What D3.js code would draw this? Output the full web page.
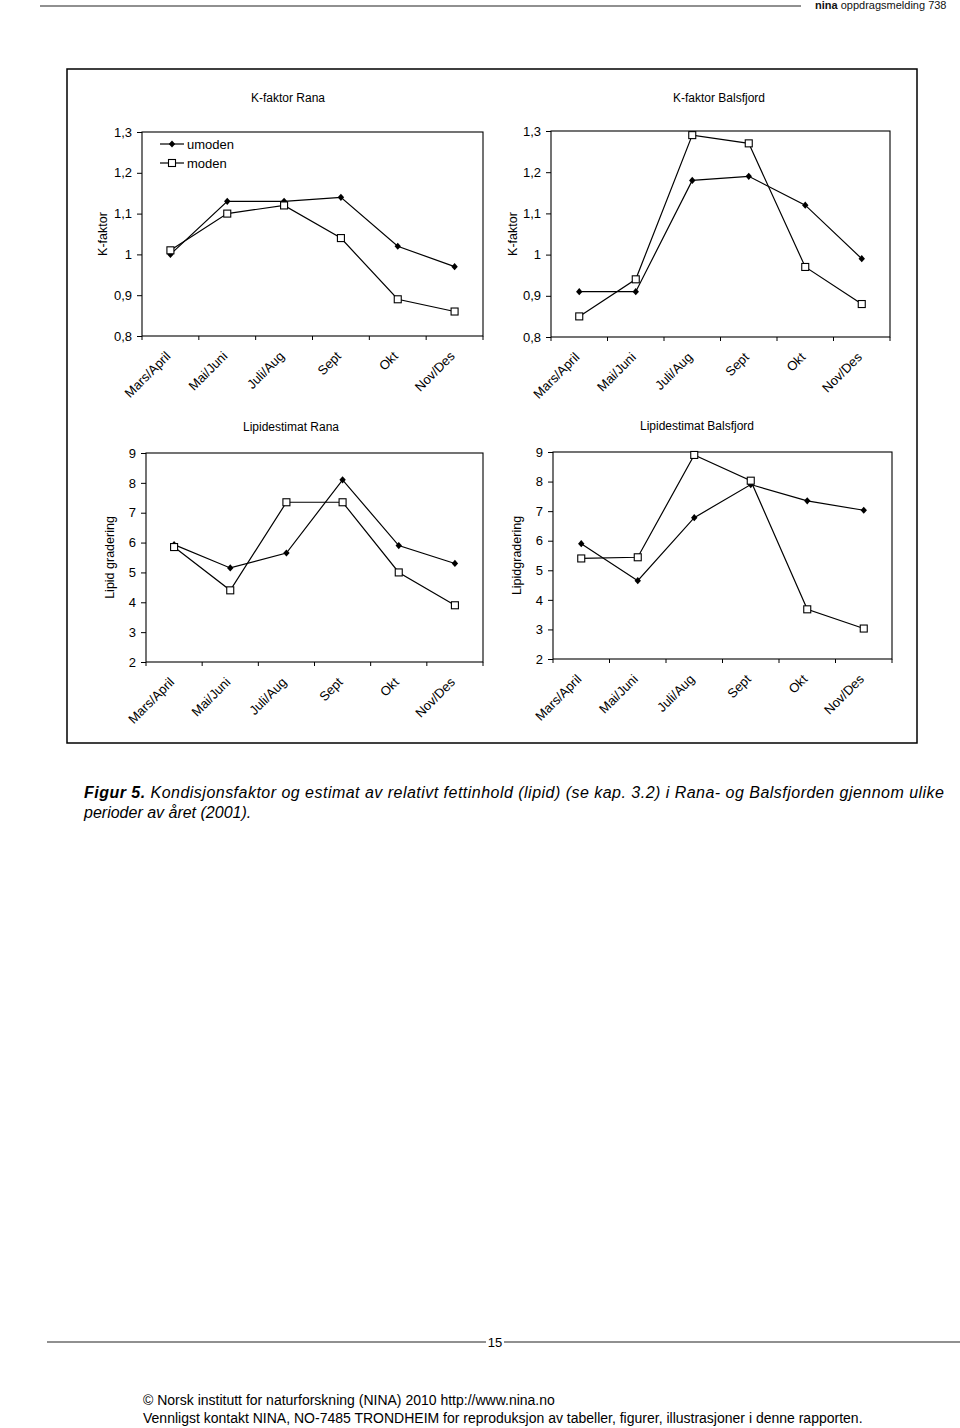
<!DOCTYPE html>
<html>
<head>
<meta charset="utf-8">
<script src="https://cdn.jsdelivr.net/npm/d3@7"></script>
<style>
  body { margin: 0; background: #fff; }
  svg { display: block; font-family: "Liberation Sans", Arial, sans-serif; }
</style>
</head>
<body>
<svg id="chart" width="960" height="1428"></svg>
<script>
// ---- data ----
const categories = ["Mars/April", "Mai/Juni", "Juli/Aug", "Sept", "Okt", "Nov/Des"];
const seriesNames = ["umoden", "moden"];

const kRanaUmoden = [1.00, 1.13, 1.13, 1.14, 1.02, 0.97];
const kRanaModen  = [1.01, 1.10, 1.12, 1.04, 0.89, 0.86];
const kBalsUmoden = [0.91, 0.91, 1.18, 1.19, 1.12, 0.99];
const kBalsModen  = [0.85, 0.94, 1.29, 1.27, 0.97, 0.88];

const lipRanaUmoden = [5.93, 5.15, 5.65, 8.1, 5.9, 5.3];
const lipRanaModen  = [5.85, 4.4, 7.35, 7.35, 5.0, 3.9];
const lipBalsUmoden = [5.9, 4.65, 6.78, 7.9, 7.35, 7.03];
const lipBalsModen  = [5.4, 5.44, 8.9, 8.03, 3.68, 3.03];

const kTicks = [0.8, 0.9, 1.0, 1.1, 1.2, 1.3];
const kTickLabels = ["0,8", "0,9", "1", "1,1", "1,2", "1,3"];
const lipTicks = [2, 3, 4, 5, 6, 7, 8, 9];
const lipTickLabels = ["2", "3", "4", "5", "6", "7", "8", "9"];

const titles = ["K-faktor Rana", "K-faktor Balsfjord", "Lipidestimat Rana", "Lipidestimat Balsfjord"];
const yTitles = ["K-faktor", "K-faktor", "Lipid gradering", "Lipidgradering"];

// ---- drawing ----
const svg = d3.select("#chart");
svg.append("rect").attr("width", 960).attr("height", 1428).attr("fill", "#fff");

// header
svg.append("line").attr("x1", 40).attr("x2", 801).attr("y1", 6).attr("y2", 6)
  .attr("stroke", "#222").attr("stroke-width", 1.2);
const hdr = svg.append("text").attr("x", 815).attr("y", 9).attr("font-size", 11).attr("fill", "#111");
hdr.append("tspan").attr("font-weight", "bold").text("nina");
hdr.append("tspan").text(" oppdragsmelding 738");

// outer frame
svg.append("rect").attr("x", 67).attr("y", 69).attr("width", 850).attr("height", 674)
  .attr("fill", "none").attr("stroke", "#000").attr("stroke-width", 1.5);

const panels = [
  { title: titles[0], yTitle: yTitles[0], a: kRanaUmoden, b: kRanaModen, ticks: kTicks, labels: kTickLabels,
    x0: 142, x1: 483, y0: 132, y1: 336, tx: 288, ty: 102, ytx: 103, legend: true },
  { title: titles[1], yTitle: yTitles[1], a: kBalsUmoden, b: kBalsModen, ticks: kTicks, labels: kTickLabels,
    x0: 551, x1: 890, y0: 131, y1: 337, tx: 719, ty: 102, ytx: 513, legend: false },
  { title: titles[2], yTitle: yTitles[2], a: lipRanaUmoden, b: lipRanaModen, ticks: lipTicks, labels: lipTickLabels,
    x0: 146, x1: 483, y0: 453, y1: 662, tx: 291, ty: 431, ytx: 110, legend: false },
  { title: titles[3], yTitle: yTitles[3], a: lipBalsUmoden, b: lipBalsModen, ticks: lipTicks, labels: lipTickLabels,
    x0: 553, x1: 892, y0: 452, y1: 659, tx: 697, ty: 430, ytx: 517, legend: false }
];

function drawDiamond(g, x, y) {
  g.append("path").attr("d", "M0,-3.6L3.2,0L0,3.6L-3.2,0Z")
    .attr("transform", `translate(${x},${y})`).attr("fill", "#000");
}
function drawSquare(g, x, y) {
  g.append("rect").attr("x", x - 3.5).attr("y", y - 3.5).attr("width", 7).attr("height", 7)
    .attr("fill", "#fff").attr("stroke", "#000").attr("stroke-width", 1.1);
}

panels.forEach(p => {
  const g = svg.append("g");
  const x = d3.scaleBand().domain(categories).range([p.x0, p.x1]);
  const y = d3.scaleLinear().domain([p.ticks[0], p.ticks[p.ticks.length - 1]]).range([p.y1, p.y0]);

  // title
  g.append("text").attr("x", p.tx).attr("y", p.ty).attr("text-anchor", "middle")
    .attr("font-size", 12).text(p.title);

  // plot box
  g.append("rect").attr("x", p.x0).attr("y", p.y0).attr("width", p.x1 - p.x0).attr("height", p.y1 - p.y0)
    .attr("fill", "none").attr("stroke", "#000").attr("stroke-width", 1.1);

  // y axis
  const yAxis = d3.axisLeft(y).tickValues(p.ticks).tickSize(5).tickPadding(5)
    .tickFormat((d, i) => p.labels[i]);
  const ya = g.append("g").attr("transform", `translate(${p.x0},0)`).call(yAxis);
  ya.select(".domain").remove();
  ya.selectAll("text").attr("font-size", 13).attr("font-family", "Liberation Sans, Arial, sans-serif").attr("fill", "#000");
  ya.selectAll("line").attr("stroke", "#000");

  // x axis ticks at band boundaries
  const bounds = categories.map(c => x(c)).concat([p.x1]);
  g.selectAll(".xt").data(bounds).enter().append("line")
    .attr("x1", d => d).attr("x2", d => d).attr("y1", p.y1).attr("y2", p.y1 + 4)
    .attr("stroke", "#000");

  // x labels
  g.selectAll(".xl").data(categories).enter().append("text")
    .attr("transform", d => `translate(${x(d) + x.bandwidth() / 2 + 1},${p.y1 + 21}) rotate(-45)`)
    .attr("text-anchor", "end").attr("font-size", 13).text(d => d);

  // y title
  g.append("text").attr("transform", `translate(${p.ytx},${(p.y0 + p.y1) / 2}) rotate(-90)`)
    .attr("text-anchor", "middle").attr("dy", "0.35em").attr("font-size", 12.5).text(p.yTitle);

  const cx = d => x(d) + x.bandwidth() / 2;
  const line = d3.line().x((d, i) => cx(categories[i])).y(d => y(d));

  g.append("path").datum(p.a).attr("d", line).attr("fill", "none").attr("stroke", "#000").attr("stroke-width", 1.2);
  g.append("path").datum(p.b).attr("d", line).attr("fill", "none").attr("stroke", "#000").attr("stroke-width", 1.2);
  p.a.forEach((v, i) => drawDiamond(g, cx(categories[i]), y(v)));
  p.b.forEach((v, i) => drawSquare(g, cx(categories[i]), y(v)));

  if (p.legend) {
    const lx = p.x0 + 18, ly = p.y0 + 12;
    [0, 1].forEach(k => {
      const yy = ly + k * 19;
      g.append("line").attr("x1", lx).attr("x2", lx + 24).attr("y1", yy).attr("y2", yy)
        .attr("stroke", "#000").attr("stroke-width", 1.2);
      if (k === 0) drawDiamond(g, lx + 12, yy); else drawSquare(g, lx + 12, yy);
      g.append("text").attr("x", lx + 27).attr("y", yy).attr("dy", "0.35em")
        .attr("font-size", 13).text(seriesNames[k]);
    });
  }
});

// caption
const cap1 = svg.append("text").attr("x", 84).attr("y", 798).attr("font-size", 16)
  .attr("font-style", "italic").attr("textLength", 860).attr("lengthAdjust", "spacing");
cap1.append("tspan").attr("font-weight", "bold").text("Figur 5.");
cap1.append("tspan").text(" Kondisjonsfaktor og estimat av relativt fettinhold (lipid) (se kap. 3.2) i Rana- og Balsfjorden gjennom ulike");
svg.append("text").attr("x", 84).attr("y", 818).attr("font-size", 16).attr("font-style", "italic")
  .text("perioder av året (2001).");

// footer
svg.append("line").attr("x1", 47).attr("x2", 486).attr("y1", 1342).attr("y2", 1342).attr("stroke", "#222").attr("stroke-width", 1.2);
svg.append("line").attr("x1", 504).attr("x2", 960).attr("y1", 1342).attr("y2", 1342).attr("stroke", "#222").attr("stroke-width", 1.2);
svg.append("text").attr("x", 495).attr("y", 1347).attr("text-anchor", "middle").attr("font-size", 13).text("15");
svg.append("text").attr("x", 143).attr("y", 1405).attr("font-size", 14).text("© Norsk institutt for naturforskning (NINA) 2010 http://www.nina.no");
svg.append("text").attr("x", 143).attr("y", 1423).attr("font-size", 14)
  .text("Vennligst kontakt NINA, NO-7485 TRONDHEIM for reproduksjon av tabeller, figurer, illustrasjoner i denne rapporten.");
</script>
</body>
</html>
